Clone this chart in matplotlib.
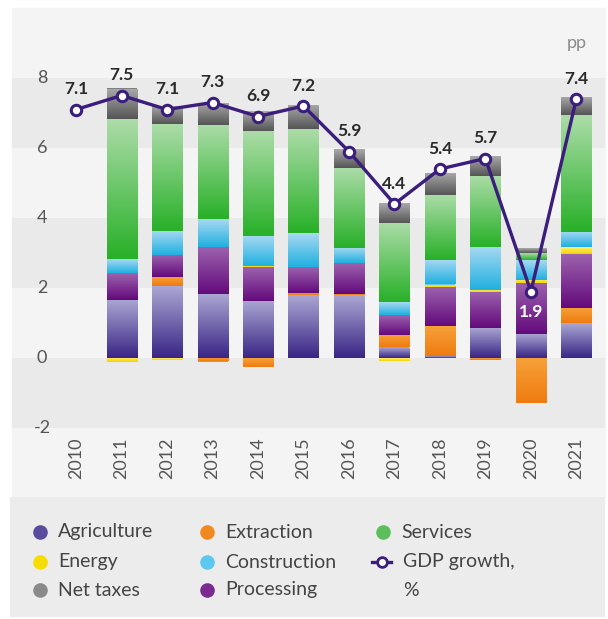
"""
GDP growth decomposition by sector, 2010-2021 (stacked contributions + GDP line).
"""
import numpy as np
import matplotlib
matplotlib.use("Agg")
import matplotlib.pyplot as plt
from matplotlib.colors import LinearSegmentedColormap
from matplotlib.patches import Rectangle
from matplotlib.lines import Line2D

plt.rcParams['font.family'] = ['Lato', 'DejaVu Sans']

# --- data (percentage points) ---
years = ['2010', '2011', '2012', '2013', '2014', '2015',
         '2016', '2017', '2018', '2019', '2020', '2021']
gdp_growth = [7.1, 7.5, 7.1, 7.3, 6.9, 7.2, 5.9, 4.4, 5.4, 5.7, 1.9, 7.4]
agriculture = [0, 1.66, 2.05, 1.83, 1.63, 1.80, 1.80, 0.30, 0.05, 0.86, 0.69, 1.00]
extraction = [0, 0, 0.26, -0.10, -0.25, 0.06, 0.04, 0.37, 0.86, -0.05, -1.29, 0.43]
processing = [0, 0.77, 0.63, 1.34, 0.97, 0.74, 0.88, 0.55, 1.11, 1.03, 1.46, 1.54]
energy = [0, -0.12, -0.05, 0, 0.03, 0, 0, -0.08, 0.08, 0.06, 0.09, 0.20]
construction = [0, 0.40, 0.70, 0.80, 0.86, 0.97, 0.43, 0.37, 0.69, 1.23, 0.55, 0.43]
services = [0, 4.00, 3.05, 2.69, 3.00, 2.97, 2.29, 2.28, 1.86, 2.03, 0.20, 3.34]
net_taxes = [0, 0.87, 0.52, 0.63, 0.57, 0.69, 0.54, 0.57, 0.63, 0.57, 0.14, 0.52]
y_ticks = [-2, 0, 2, 4, 6, 8]

# stacking order (bottom -> top), gradient colours (bottom, top), legend colour
sectors = [
    ('Agriculture', agriculture, '#3a2585', '#aba7d3', '#5a4c9c'),
    ('Extraction', extraction, '#ef7b10', '#f6a23a', '#f08a20'),
    ('Processing', processing, '#640a7c', '#9c62ae', '#7a2a90'),
    ('Energy', energy, '#f5d200', '#fff06a', '#f7dc00'),
    ('Construction', construction, '#20b0e0', '#a8d9f2', '#5cc8ef'),
    ('Services', services, '#28b028', '#acdca8', '#5cbf5c'),
    ('Net taxes', net_taxes, '#555555', '#aaaaaa', '#8a8a8a'),
]
line_color = '#3b1d7c'
band_color = '#ebeaeb'
panel_color = '#f5f4f5'
text_color = '#555555'

W, H = 608, 619
fig = plt.figure(figsize=(W / 100, H / 100), dpi=100, facecolor='white')

# panel background behind the chart and the year labels
fig.add_artist(Rectangle((12 / W, (H - 497) / H), (605 - 12) / W, (497 - 8) / H,
                         transform=fig.transFigure, color=panel_color, zorder=0))

ax = fig.add_axes([12 / W, (H - 428) / H, (605 - 12) / W, (428 - 8) / H])
ax.set_facecolor(panel_color)
for lo in (-2, 2, 6):
    ax.axhspan(lo, lo + 2, color=band_color, lw=0, zorder=0)

x = np.arange(len(years))
width = 0.66
grad = np.linspace(0, 1, 128).reshape(-1, 1)
pos_base = np.zeros(len(years))
neg_base = np.zeros(len(years))

for name, vals, c_lo, c_hi, _ in sectors:
    vals = np.array(vals, dtype=float)
    bottom = np.where(vals >= 0, pos_base, neg_base)
    cmap = LinearSegmentedColormap.from_list(name, [c_lo, c_hi])
    bars = ax.bar(x, vals, width, bottom=bottom, color=cmap(0.5), lw=0, zorder=2)
    # vertical gradient inside each segment, clipped to the bar
    for patch, v in zip(bars, vals):
        if v == 0:
            continue
        bb = patch.get_bbox()
        lo, hi = sorted((bb.y0, bb.y1))
        im = ax.imshow(grad, cmap=cmap, extent=(bb.x0, bb.x1, lo, hi),
                       origin='lower', aspect='auto', interpolation='bilinear',
                       zorder=2.1)
        im.set_clip_path(patch)
    pos_base += np.clip(vals, 0, None)
    neg_base += np.clip(vals, None, 0)

# GDP growth line
ax.plot(x, gdp_growth, color=line_color, lw=2.4, marker='o', ms=7.5,
        mfc='white', mec=line_color, mew=2.2, zorder=5)
for xi, g, top in zip(x, gdp_growth, pos_base):
    if top > 0 and g < top - 0.5:
        ax.annotate(f'{g:.1f}', (xi, g), xytext=(0, -15), textcoords='offset points',
                    ha='center', va='center', fontsize=12.5, fontweight='bold',
                    color='white', zorder=6)
    else:
        ax.annotate(f'{g:.1f}', (xi, g), xytext=(0, 14.5), textcoords='offset points',
                    ha='center', va='center', fontsize=12.5, fontweight='bold',
                    color='#2a2a2a', zorder=6)

ax.text(x[-1], 9.0, 'pp', ha='center', va='center', fontsize=13, color='#8a8a8a')

# axes styling
ax.set_xlim(-1.41, 11.63)
ax.set_ylim(-2, 10)
ax.set_yticks([])
ax.set_xticks(x)
ax.set_xticklabels(years, rotation=90, fontsize=13, color=text_color)
ax.tick_params(axis='x', length=0, pad=7)
for t in y_ticks:
    ax.text(-0.75, t, str(t), ha='center', va='center', fontsize=13, color=text_color)
for s in ax.spines.values():
    s.set_visible(False)

# legend box
lax = fig.add_axes([10 / W, 2 / H, 595 / W, 120 / H])
lax.set_facecolor('#ececec')
lax.set_xlim(0, 595)
lax.set_ylim(120, 0)
lax.set_xticks([])
lax.set_yticks([])
for s in lax.spines.values():
    s.set_visible(False)

legend_cols = [['Agriculture', 'Energy', 'Net taxes'],
               ['Extraction', 'Construction', 'Processing'],
               ['Services']]
legend_colors = {name: lc for name, _, _, _, lc in sectors}
col_x = [30, 197, 373]
row_y = [35, 65, 93]
for cx, names in zip(col_x, legend_cols):
    for ry, name in zip(row_y, names):
        lax.plot(cx, ry, 'o', ms=10.5, color=legend_colors[name], mew=0)
        lax.text(cx + 18, ry, name, ha='left', va='center', fontsize=14,
                 color='#444444')
lax.add_line(Line2D([col_x[2] - 11, col_x[2] + 8], [row_y[1], row_y[1]],
                    color=line_color, lw=2.4))
lax.plot(col_x[2] - 1.5, row_y[1], 'o', ms=7, mfc='white', mec=line_color, mew=2)
lax.text(col_x[2] + 20, row_y[1], 'GDP growth,', ha='left', va='center',
         fontsize=14, color='#444444')
lax.text(col_x[2] + 20, row_y[2], '%', ha='left', va='center',
         fontsize=14, color='#444444')

fig.savefig('out.png', dpi=100, facecolor='white')
